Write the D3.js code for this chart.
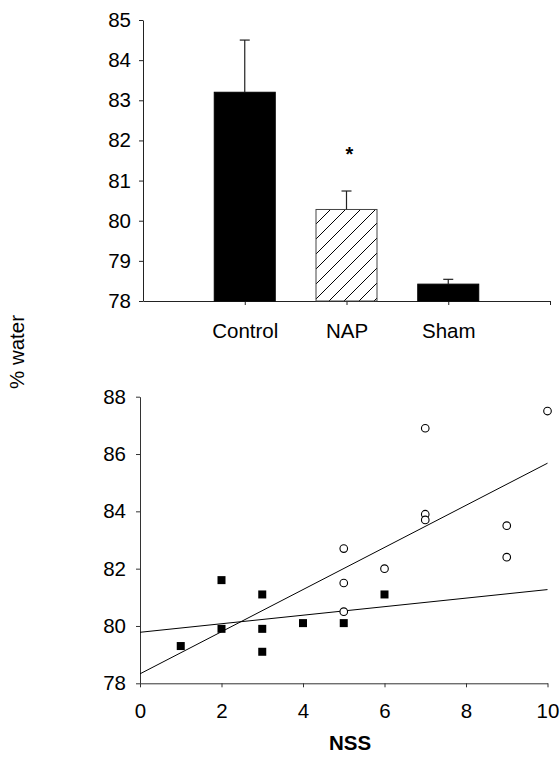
<!DOCTYPE html>
<html>
<head>
<meta charset="utf-8">
<script src="https://cdn.jsdelivr.net/npm/d3@7"></script>
<style>
  html, body { margin: 0; padding: 0; background: #fff; }
  svg { display: block; }
  text { font-family: "Liberation Sans", Arial, sans-serif; fill: #000; }
</style>
</head>
<body>
<svg id="chart" width="560" height="758"></svg>
<script>
// ---- Data ----
const categories = ["Control", "NAP", "Sham"];
const meanWater = [83.2, 80.28, 78.42];
const errWater = [1.3, 0.46, 0.12];
const barYTicks = [78, 79, 80, 81, 82, 83, 84, 85];

const nssSquares = [1, 2, 2, 3, 3, 3, 4, 5, 6];
const waterSquares = [79.3, 81.6, 79.9, 81.1, 79.9, 79.1, 80.1, 80.1, 81.1];
const nssCircles = [5, 5, 5, 6, 7, 7, 7, 9, 9, 10];
const waterCircles = [82.7, 81.5, 80.5, 82.0, 86.9, 83.9, 83.7, 83.5, 82.4, 87.5];
const fitX = [0, 10];
const fitSteep = [78.33, 85.68];
const fitShallow = [79.78, 81.27];
const scatterYTicks = [78, 80, 82, 84, 86, 88];
const scatterXTicks = [0, 2, 4, 6, 8, 10];

const svg = d3.select("#chart");
const FS = 20.5;

// hatch pattern
const defs = svg.append("defs");
const pat = defs.append("pattern")
  .attr("id", "hatch").attr("patternUnits", "userSpaceOnUse")
  .attr("width", 15).attr("height", 15);
pat.append("path")
  .attr("d", "M0,15 L15,0 M-3,3 L3,-3 M12,18 L18,12")
  .attr("stroke", "#000").attr("stroke-width", 1);

// ---- Top bar chart ----
const yTop = d3.scaleLinear().domain([78, 85]).range([301, 20]);
const xTop = d3.scalePoint().domain(["", ...categories, " "]).range([143, 550]);
const barW = 61;

const gTop = svg.append("g");
const yAxTop = gTop.append("g").attr("transform", "translate(143,0)")
  .call(d3.axisLeft(yTop).tickValues(barYTicks).tickFormat(d3.format("d"))
    .tickSize(4).tickPadding(8).tickSizeOuter(0));
const xAxTop = gTop.append("g").attr("transform", "translate(0,301)")
  .call(d3.axisBottom(xTop).tickSize(4).tickPadding(18).tickSizeOuter(0));
xAxTop.selectAll(".tick").filter(d => d === "").remove();

[yAxTop, xAxTop].forEach(ax => {
  ax.select(".domain").attr("stroke", "#222");
  ax.selectAll(".tick line").attr("stroke", "#222");
  ax.selectAll("text").attr("font-size", FS).attr("font-family", "Liberation Sans, Arial, sans-serif").attr("fill", "#000");
});

const bars = categories.map((c, i) => ({ c, m: meanWater[i], e: errWater[i] }));
gTop.selectAll(".bar").data(bars).enter().append("rect")
  .attr("x", d => xTop(d.c) - barW / 2)
  .attr("y", d => yTop(d.m))
  .attr("width", barW)
  .attr("height", d => yTop(78) - yTop(d.m))
  .attr("fill", d => d.c === "NAP" ? "url(#hatch)" : "#000")
  .attr("stroke", d => d.c === "NAP" ? "#444" : "#000")
  .attr("stroke-width", 1);

gTop.selectAll(".err").data(bars).enter().append("line")
  .attr("x1", d => xTop(d.c)).attr("x2", d => xTop(d.c))
  .attr("y1", d => yTop(d.m)).attr("y2", d => yTop(d.m + d.e))
  .attr("stroke", "#222").attr("stroke-width", 1.2);
gTop.selectAll(".cap").data(bars).enter().append("line")
  .attr("x1", d => xTop(d.c) - 5).attr("x2", d => xTop(d.c) + 5)
  .attr("y1", d => yTop(d.m + d.e)).attr("y2", d => yTop(d.m + d.e))
  .attr("stroke", "#222").attr("stroke-width", 1.2);

gTop.append("text").attr("x", xTop("NAP") + 3).attr("y", yTop(81.8) + 13)
  .attr("text-anchor", "middle").attr("font-size", 20).attr("font-weight", "bold").text("*");

// ---- Bottom scatter ----
const xS = d3.scaleLinear().domain([0, 10]).range([140, 547.5]);
const yS = d3.scaleLinear().domain([78, 88]).range([683.3, 396.7]);
const gS = svg.append("g");

const yAxS = gS.append("g").attr("transform", "translate(140,0)")
  .call(d3.axisLeft(yS).tickValues(scatterYTicks).tickSize(4).tickPadding(10).tickSizeOuter(0));
const xAxS = gS.append("g").attr("transform", "translate(0,683.3)")
  .call(d3.axisBottom(xS).tickValues(scatterXTicks).tickSize(4).tickPadding(16).tickSizeOuter(0));
[yAxS, xAxS].forEach(ax => {
  ax.select(".domain").attr("stroke", "#333");
  ax.selectAll(".tick line").attr("stroke", "#333");
  ax.selectAll("text").attr("font-size", FS).attr("font-family", "Liberation Sans, Arial, sans-serif").attr("fill", "#000");
});

const line = d3.line().x(d => xS(d[0])).y(d => yS(d[1]));
gS.append("path").attr("d", line(fitX.map((x, i) => [x, fitSteep[i]])))
  .attr("fill", "none").attr("stroke", "#000").attr("stroke-width", 1);
gS.append("path").attr("d", line(fitX.map((x, i) => [x, fitShallow[i]])))
  .attr("fill", "none").attr("stroke", "#000").attr("stroke-width", 1);

const sq = 8;
gS.selectAll(".sq").data(nssSquares.map((x, i) => [x, waterSquares[i]])).enter().append("rect")
  .attr("x", d => xS(d[0]) - sq / 2).attr("y", d => yS(d[1]) - sq / 2)
  .attr("width", sq).attr("height", sq).attr("fill", "#000");
gS.selectAll(".ci").data(nssCircles.map((x, i) => [x, waterCircles[i]])).enter().append("circle")
  .attr("cx", d => xS(d[0])).attr("cy", d => yS(d[1])).attr("r", 3.8)
  .attr("fill", "#fff").attr("stroke", "#000").attr("stroke-width", 1.1);

svg.append("text").attr("transform", "translate(24,352) rotate(-90)")
  .attr("text-anchor", "middle").attr("font-size", FS).text("% water");
svg.append("text").attr("x", 350).attr("y", 750)
  .attr("text-anchor", "middle").attr("font-size", FS).attr("font-weight", "bold").text("NSS");
</script>
</body>
</html>
